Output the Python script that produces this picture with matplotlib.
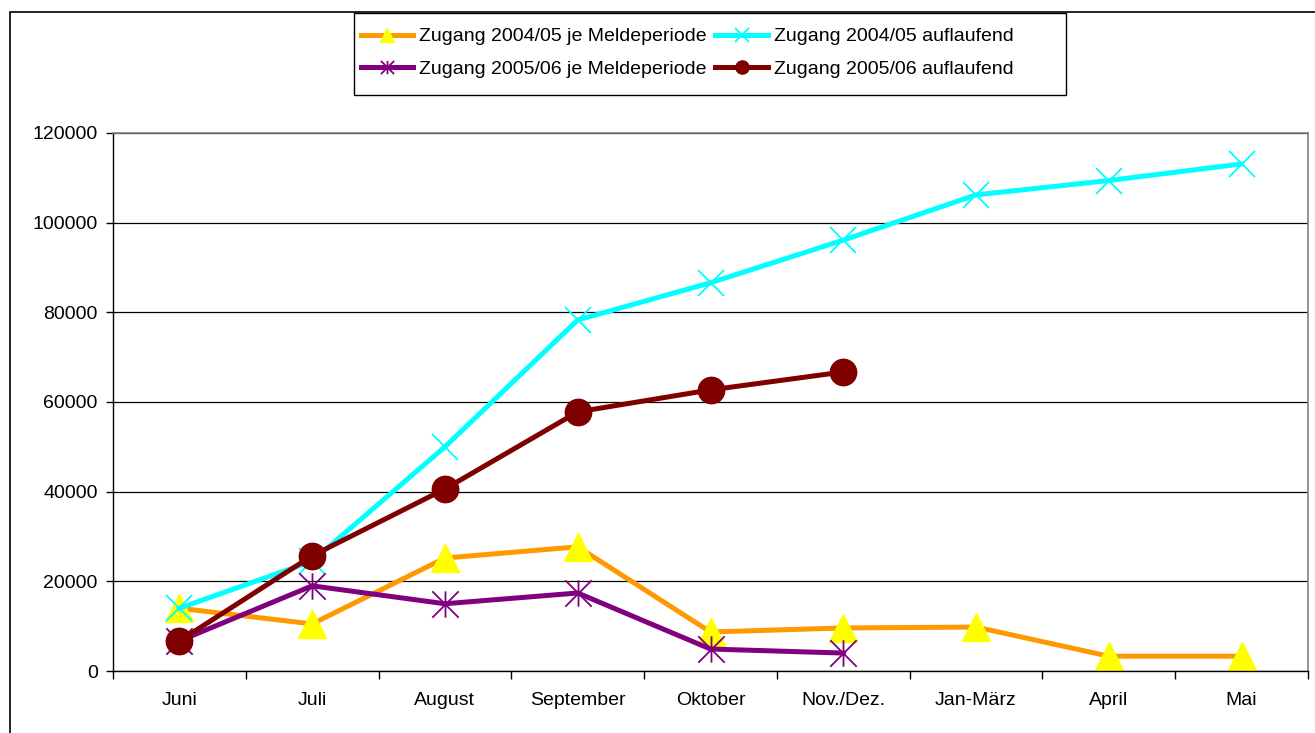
import matplotlib.pyplot as plt
import numpy as np
from matplotlib.path import Path
from matplotlib.patches import Rectangle

plt.rcParams['font.family'] = ['Liberation Sans', 'DejaVu Sans']

monate = ['Juni', 'Juli', 'August', 'September', 'Oktober', 'Nov./Dez.',
          'Jan-März', 'April', 'Mai']

zugang_0405_periode = [14000, 10500, 25200, 27700, 8700, 9600, 9800, 3300, 3300]
zugang_0405_auflaufend = [14000, 24500, 50000, 78300, 86600, 96100, 106200, 109400, 113100]
zugang_0506_periode = [6700, 19000, 15000, 17400, 4900, 4000]
zugang_0506_auflaufend = [6700, 25700, 40600, 57800, 62700, 66700]

# Excel-Sternchen: X plus senkrechter Strich
stern = Path([(-1, -1), (1, 1), (-1, 1), (1, -1), (0, -1), (0, 1)],
             [Path.MOVETO, Path.LINETO, Path.MOVETO, Path.LINETO,
              Path.MOVETO, Path.LINETO])

W, H = 1315, 733
fig = plt.figure(figsize=(W / 100, H / 100), dpi=100)
ax = fig.add_axes([113 / W, 62 / H, 1195 / W, 538 / H])

# aeusserer Rahmen
fig.patches.append(Rectangle((10 / W, -0.1), 1.2, 0.1 + 721 / H,
                             transform=fig.transFigure, fill=False,
                             edgecolor='black', linewidth=1.2))
# Legendenrahmen
fig.patches.append(Rectangle((354 / W, 1 - 95 / H), 712 / W, 82 / H,
                             transform=fig.transFigure, fill=False,
                             edgecolor='black', linewidth=1.0))

x1 = np.arange(len(zugang_0405_periode))
x2 = np.arange(len(zugang_0506_periode))

l1, = ax.plot(x1, zugang_0405_periode, color='#FF9900', linewidth=3.6,
              marker='^', markersize=20, markerfacecolor='#FFFF00',
              markeredgecolor='#FFFF00', label='Zugang 2004/05 je Meldeperiode')
l2, = ax.plot(x1, zugang_0405_auflaufend, color='#00FFFF', linewidth=3.6,
              marker='x', markersize=19, markeredgewidth=1.3,
              markeredgecolor='#00FFFF', label='Zugang 2004/05 auflaufend')
l3, = ax.plot(x2, zugang_0506_periode, color='#800080', linewidth=3.6,
              marker=stern, markersize=19, markeredgewidth=1.3,
              markerfacecolor='none', markeredgecolor='#800080',
              label='Zugang 2005/06 je Meldeperiode')
l4, = ax.plot(x2, zugang_0506_auflaufend, color='#800000', linewidth=3.6,
              marker='o', markersize=19, markerfacecolor='#800000',
              markeredgecolor='#800000', label='Zugang 2005/06 auflaufend')

ax.set_xlim(-0.5, len(monate) - 0.5)
ax.set_ylim(0, 120000)
ax.set_yticks(np.arange(0, 120001, 20000))
ax.set_yticklabels([str(v) for v in range(0, 120001, 20000)], fontsize=14)
ax.set_xticks(x1)
ax.set_xticklabels(monate, fontsize=14)
ax.set_xticks(np.arange(-0.5, len(monate)), minor=True)
ax.tick_params(axis='x', which='major', length=0, pad=15)
ax.tick_params(axis='x', which='minor', length=6, width=1, direction='out')
ax.tick_params(axis='y', length=5, width=1, pad=6)

ax.grid(axis='y', color='black', linewidth=0.9)
ax.set_axisbelow(True)
for s in ['top', 'right']:
    ax.spines[s].set_color('#808080')
    ax.spines[s].set_linewidth(1.2)
for s in ['left', 'bottom']:
    ax.spines[s].set_color('black')
    ax.spines[s].set_linewidth(1.0)

fig.legend(handles=[l1, l3, l2, l4], ncol=2, loc='upper left',
           bbox_to_anchor=(346 / W, 1 - 13 / H), fontsize=14, frameon=False,
           markerscale=0.5, handlelength=2.7, handletextpad=0.3,
           columnspacing=0.45, borderpad=0.26, labelspacing=0.75)

fig.savefig('out.png', dpi=100)
